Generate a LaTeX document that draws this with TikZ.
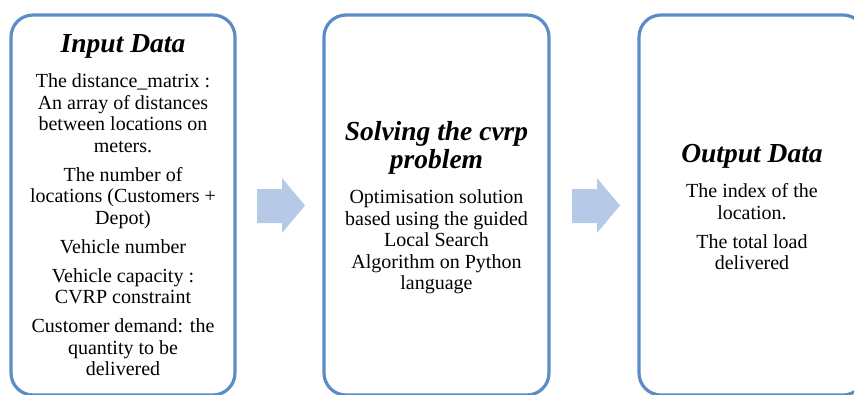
\documentclass[tikz,border=0pt]{standalone}
\usepackage{fontspec}
\setmainfont{Liberation Serif}
\definecolor{boxblue}{HTML}{5B8CC6}
\definecolor{arrowblue}{HTML}{B6CAE8}
\begin{document}
\begin{tikzpicture}[x=1pt,y=-1pt,
  panel/.style={draw=boxblue, line width=3.2pt, rounded corners=22pt, fill=white},
  title/.style={font=\fontsize{27.5}{28}\selectfont\bfseries\itshape, align=center, inner sep=0pt},
  body/.style={font=\fontsize{20}{21.5}\selectfont, align=center, inner sep=0pt},
  blockarrow/.style={fill=arrowblue, draw=none}]
\clip (0,0) rectangle (854,394);
\fill[white] (0,0) rectangle (854,394);
% panels
\path[panel] (11,15) rectangle (235,395);
\node[inner sep=0pt, minimum width=224pt, minimum height=380pt, anchor=north west] (b1) at (11,15) {};
\path[panel] (324,15) rectangle (549,395);
\node[inner sep=0pt, minimum width=225pt, minimum height=380pt, anchor=north west] (b2) at (324,15) {};
\path[panel] (639,15) rectangle (865,395);
\node[inner sep=0pt, minimum width=226pt, minimum height=380pt, anchor=north west] (b3) at (639,15) {};
% texts box 1
\node[title, anchor=base] (t1) at (123,52) {Input Data};
\node[body, anchor=north] (d1) at (123,73.5) {The distance\_matrix :\\An array of distances\\between locations on\\meters.\\[7.5pt]
The number of\\locations (Customers +\\Depot)\\[7.5pt]
Vehicle number\\[7.5pt]
Vehicle capacity :\\CVRP constraint\\[7.5pt]
Customer demand: the\\quantity to be\\delivered};
% texts box 2
\node[title, anchor=north] (t2) at (436.5,121) {Solving the cvrp\\problem};
\node[body, anchor=north] (d2) at (436.5,189.5) {Optimisation solution\\based using the guided\\Local Search\\Algorithm on Python\\language};
% texts box 3
\node[title, anchor=base] (t3) at (752,162) {Output Data};
\node[body, anchor=north] (d3) at (752,183.5) {The index of the\\location.\\[7.5pt]The total load\\delivered};
% block arrows
\path[blockarrow] (257,189) coordinate (a1)
  -- (282,189) -- (282,178) -- (305,205.5) -- (282,233) -- (282,223) -- (257,223) -- cycle;
\path[blockarrow] (572,189) coordinate (a2)
  -- (597,189) -- (597,178) -- (620,205.5) -- (597,233) -- (597,223) -- (572,223) -- cycle;
\end{tikzpicture}
\end{document}
